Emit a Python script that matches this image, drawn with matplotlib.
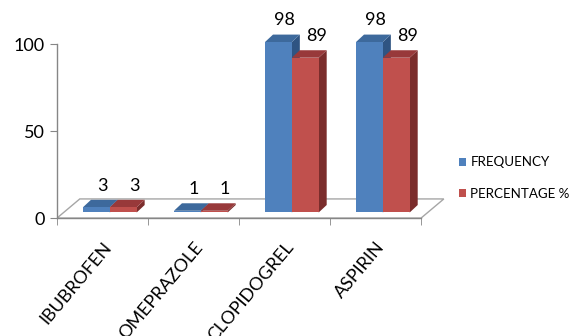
import matplotlib.pyplot as plt
from matplotlib.patches import Polygon, Patch

drugs = ["IBUBROFEN", "OMEPRAZOLE", "CLOPIDOGREL", "ASPIRIN"]
frequency = [3, 1, 98, 98]
percentage = [3, 1, 89, 89]
series_names = ["FREQUENCY", "PERCENTAGE %"]

# front / top / side shades for the pseudo-3D bars
blue = ("#4F81BD", "#3D699C", "#2F5482")
red = ("#C0504D", "#98393A", "#7B2D2C")

plt.rcParams["font.family"] = ["Lato", "DejaVu Sans"]

fig = plt.figure(figsize=(5.73, 3.36), dpi=100)
ax = fig.add_axes([0.0995, 0.351, 0.683, 0.647])
ax.set_xlim(-0.5, 3.8)
ax.set_ylim(0, 125)

# depth offsets in data units
floor_dx, floor_dy = 0.25, 11.0
base_dx, base_dy = 0.08, 3.2
bar_dx, bar_dy = 0.088, 4.3
bar_w = 0.295

floor = Polygon([(-0.5, 0), (3.5, 0), (3.5 + floor_dx, floor_dy), (-0.5 + floor_dx, floor_dy)],
                closed=True, facecolor="white", edgecolor="#A6A6A6", lw=1.0, zorder=1)
ax.add_patch(floor)


def bar3d(x0, value, shades, z):
    front, top, side = shades
    b = base_dy
    t = base_dy + value
    ax.bar(x0, value, width=bar_w, bottom=b, align="edge", color=front, zorder=z + 0.2)
    ax.add_patch(Polygon([(x0, t), (x0 + bar_w, t), (x0 + bar_w + bar_dx, t + bar_dy), (x0 + bar_dx, t + bar_dy)],
                         closed=True, facecolor=top, edgecolor="none", zorder=z + 0.1))
    ax.add_patch(Polygon([(x0 + bar_w, b), (x0 + bar_w + bar_dx, b + bar_dy),
                          (x0 + bar_w + bar_dx, t + bar_dy), (x0 + bar_w, t)],
                         closed=True, facecolor=side, edgecolor="none", zorder=z))


for i, (f, p) in enumerate(zip(frequency, percentage)):
    left = i + base_dx - bar_w
    bar3d(left, f, blue, 2 + i)
    bar3d(left + bar_w, p, red, 2.5 + i)
    ax.text(left + bar_w / 2 + 0.07, base_dy + f + 12.5, str(f), ha="center", va="center", fontsize=13)
    ax.text(left + 1.5 * bar_w + 0.12, base_dy + p + 12.5, str(p), ha="center", va="center", fontsize=13)

for s in ("top", "right"):
    ax.spines[s].set_visible(False)
for s in ("left", "bottom"):
    ax.spines[s].set_color("#868686")
    ax.spines[s].set_linewidth(1.0)
ax.spines["left"].set_bounds(0, 100)
ax.spines["bottom"].set_bounds(-0.5, 3.5)

ax.set_yticks([0, 50, 100])
ax.tick_params(axis="y", length=5, color="#868686", labelsize=13, pad=4)
ax.set_xticks(range(len(drugs)))
ax.set_xticklabels(drugs, rotation=50, ha="right", rotation_mode="anchor", fontsize=13)
ax.set_xticks([-0.5, 0.5, 1.5, 2.5, 3.5], minor=True)
ax.tick_params(axis="x", which="major", length=0, pad=15)
ax.tick_params(axis="x", which="minor", length=5, color="#868686")

handles = [Patch(facecolor=blue[0]), Patch(facecolor=red[0])]
fig.legend(handles, series_names, loc="center left", bbox_to_anchor=(0.78, 0.47),
           frameon=False, handlelength=0.55, handleheight=0.55, handletextpad=0.3,
           labelspacing=1.45, fontsize=9.6)

fig.savefig("out.png", dpi=100)
